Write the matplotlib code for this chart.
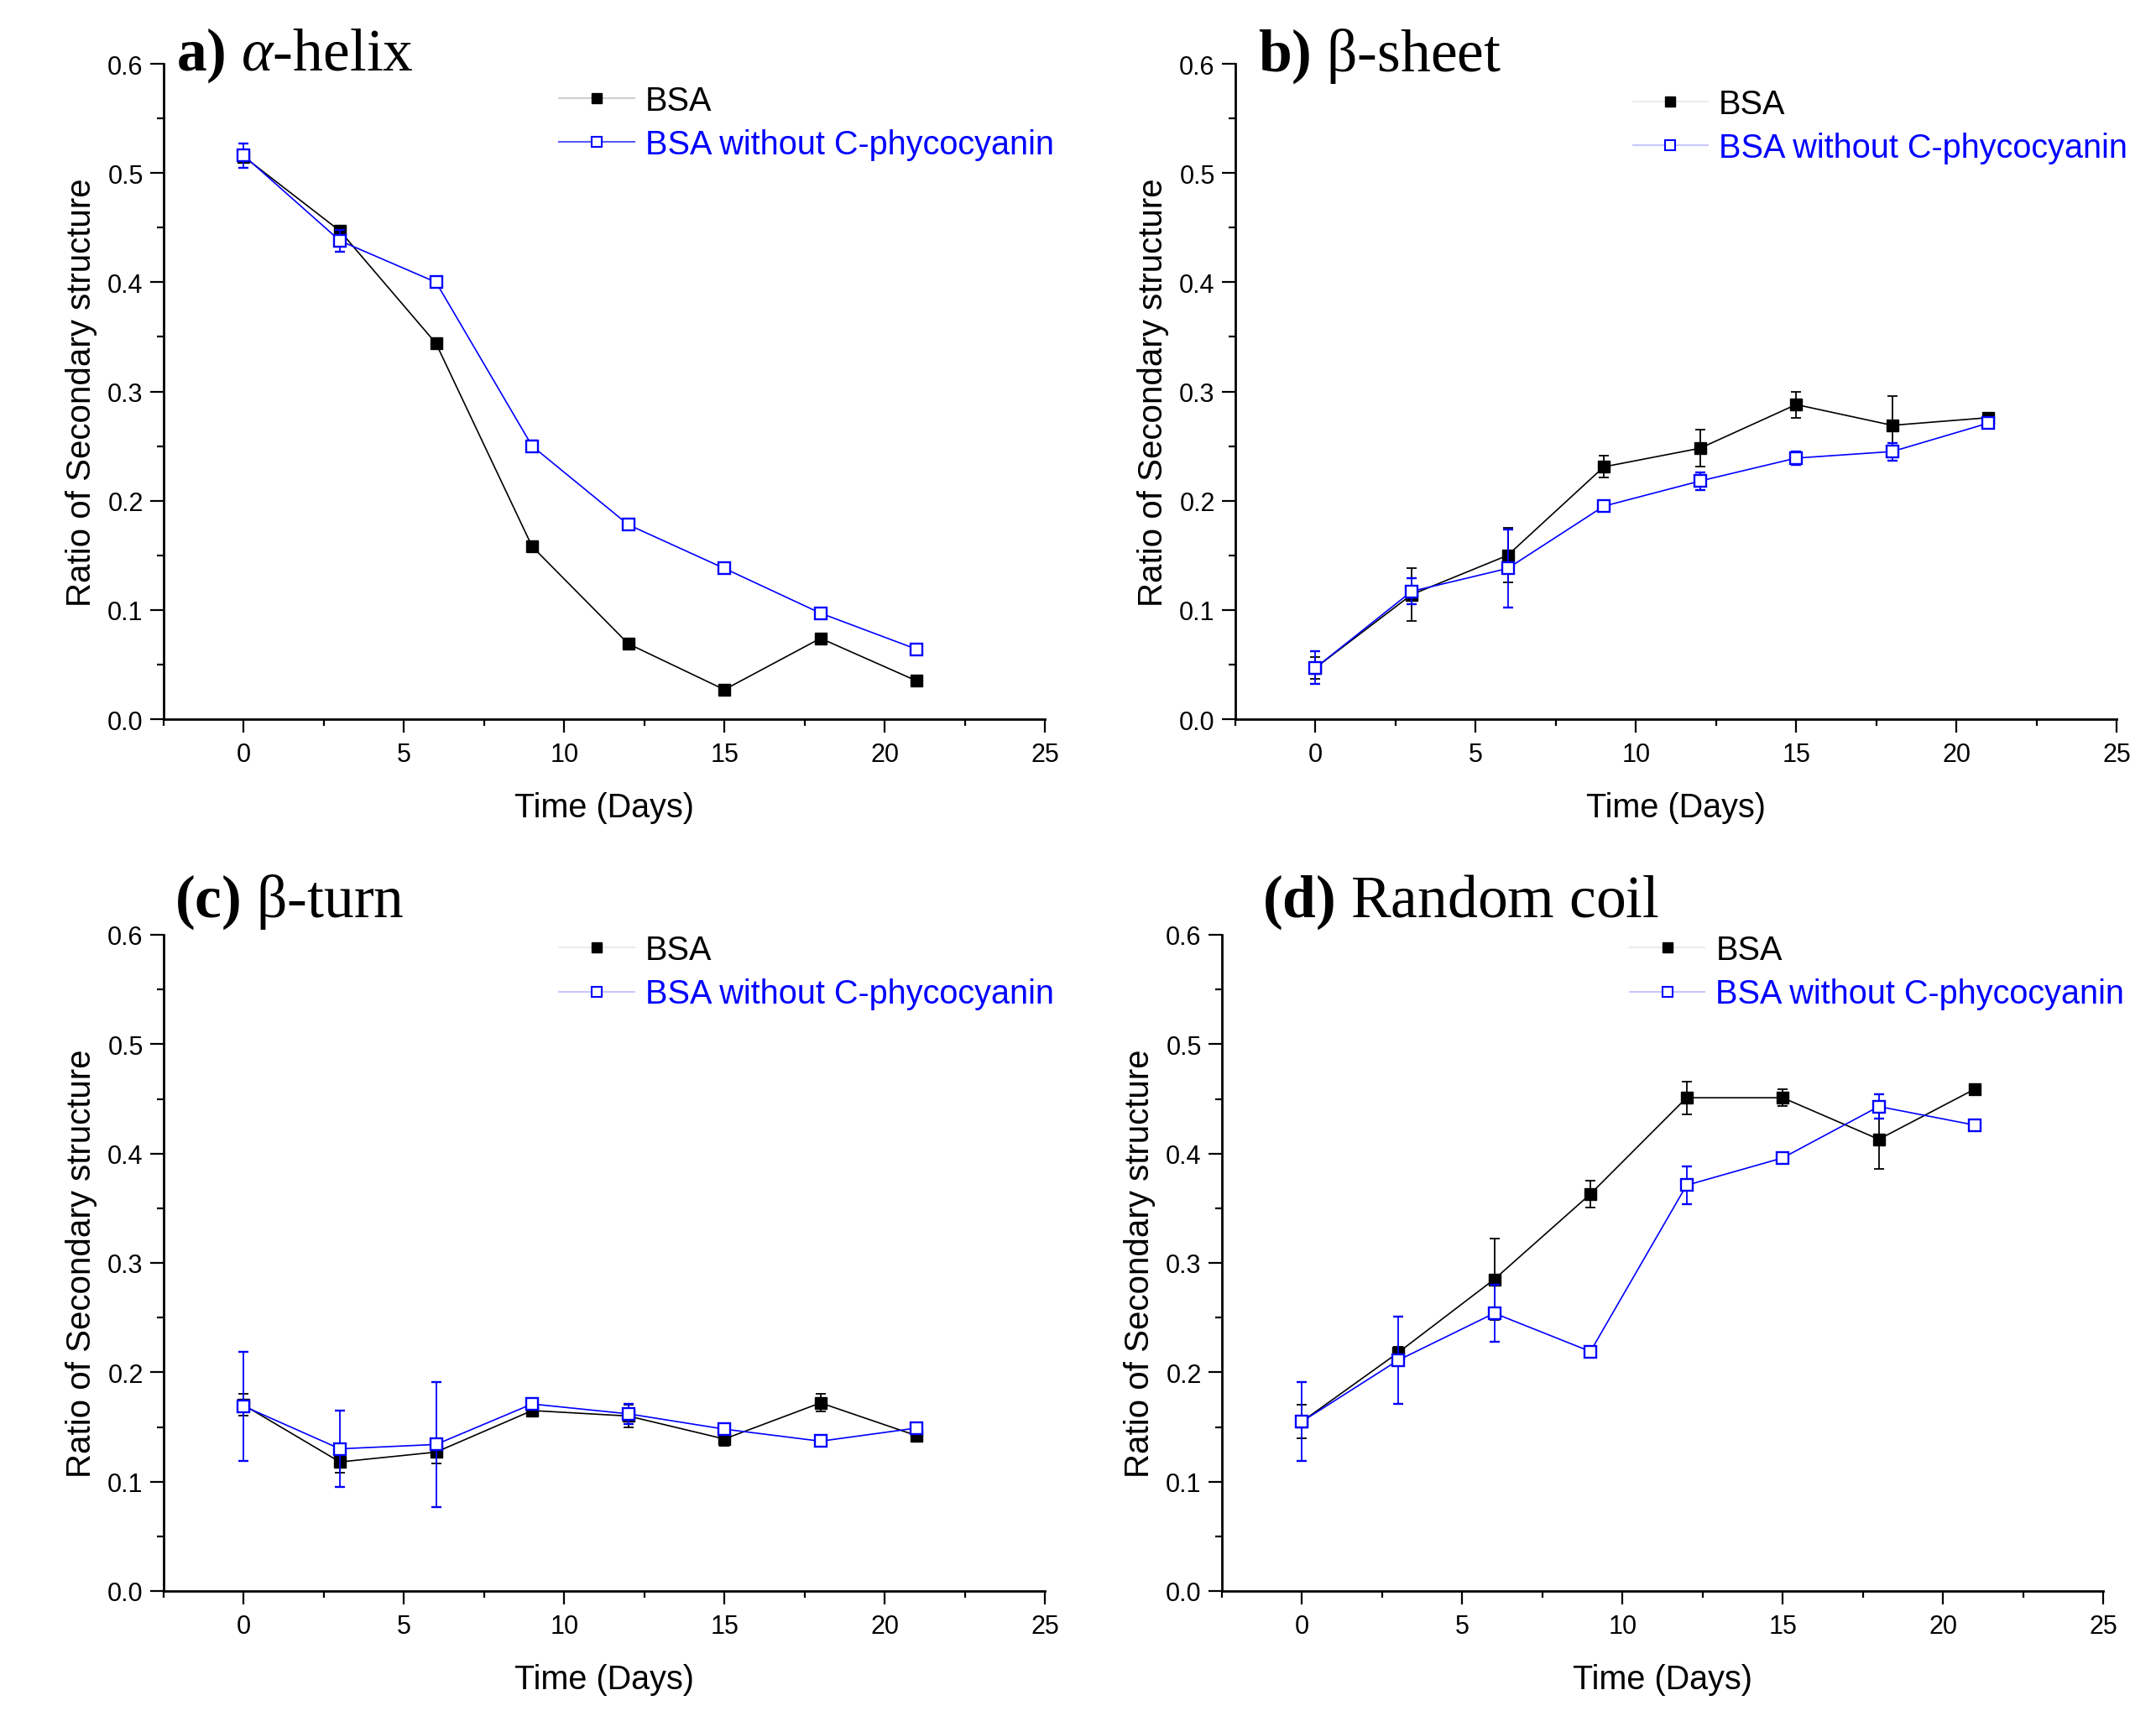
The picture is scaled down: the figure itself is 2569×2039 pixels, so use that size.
import matplotlib
matplotlib.use("Agg")
import matplotlib.pyplot as plt
from matplotlib.lines import Line2D
from matplotlib.ticker import MultipleLocator

plt.rcParams['font.family'] = ['Liberation Sans', 'DejaVu Sans']
plt.rcParams['mathtext.fontset'] = 'custom'
plt.rcParams['mathtext.rm'] = 'Liberation Serif'
plt.rcParams['mathtext.it'] = 'Liberation Serif:italic'
plt.rcParams['mathtext.bf'] = 'Liberation Serif:bold'

days = [0, 3, 6, 9, 12, 15, 18, 21]
series_labels = ["BSA", "BSA without C-phycocyanin"]

helix_bsa = [0.515, 0.447, 0.344, 0.158, 0.069, 0.027, 0.074, 0.035]
helix_bsa_err = [0.004, 0.004, 0.005, 0.004, 0.003, 0.003, 0.004, 0.003]
helix_wo = [0.516, 0.438, 0.400, 0.250, 0.178, 0.138, 0.097, 0.064]
helix_wo_err = [0.011, 0.010, 0.004, 0.005, 0.003, 0.003, 0.003, 0.003]

sheet_bsa = [0.047, 0.114, 0.150, 0.231, 0.248, 0.288, 0.269, 0.276]
sheet_bsa_err = [0.010, 0.024, 0.025, 0.010, 0.017, 0.012, 0.027, 0.004]
sheet_wo = [0.047, 0.117, 0.138, 0.195, 0.218, 0.239, 0.245, 0.271]
sheet_wo_err = [0.015, 0.012, 0.036, 0.004, 0.008, 0.006, 0.008, 0.004]

turn_bsa = [0.170, 0.118, 0.127, 0.165, 0.160, 0.139, 0.172, 0.142]
turn_bsa_err = [0.010, 0.010, 0.010, 0.003, 0.010, 0.006, 0.008, 0.003]
turn_wo = [0.169, 0.130, 0.134, 0.171, 0.162, 0.148, 0.137, 0.149]
turn_wo_err = [0.050, 0.035, 0.057, 0.003, 0.009, 0.004, 0.003, 0.004]

coil_bsa = [0.155, 0.218, 0.285, 0.363, 0.451, 0.451, 0.413, 0.459]
coil_bsa_err = [0.015, 0.005, 0.0375, 0.0125, 0.015, 0.0075, 0.027, 0.003]
coil_wo = [0.155, 0.211, 0.254, 0.219, 0.371, 0.396, 0.443, 0.426]
coil_wo_err = [0.036, 0.040, 0.026, 0.003, 0.017, 0.003, 0.011, 0.004]

titles = [r"$\mathbf{a)}$ $\alpha$-helix", r"$\mathbf{b)}$ β-sheet",
          r"$\mathbf{(c)}$ β-turn", r"$\mathbf{(d)}$ Random coil"]
panels = [
    (helix_bsa, helix_bsa_err, helix_wo, helix_wo_err),
    (sheet_bsa, sheet_bsa_err, sheet_wo, sheet_wo_err),
    (turn_bsa, turn_bsa_err, turn_wo, turn_wo_err),
    (coil_bsa, coil_bsa_err, coil_wo, coil_wo_err),
]

W, H = 2569, 2040
fig = plt.figure(figsize=(W / 100, H / 100), dpi=100)

# axes boxes in pixel coords: left, right, top, bottom
boxes = [(195, 1245, 77, 858), (1472, 2522, 77, 858),
         (195, 1245, 1115, 1897), (1456, 2506, 1115, 1897)]
title_pos = [(0.014, 0.992), (0.026, 0.990), (0.012, 1.029), (0.046, 1.029)]
legend_pos = [(0.449, 0.968), (0.451, 0.963), (0.449, 1.001), (0.463, 1.001)]
handle_line_colors = [('#cfcfcf', '#5a5aff'), ('#ececec', '#c8c8ff'),
                      ('#ececec', '#c8c8ff'), ('#ececec', '#c8c8ff')]

BLUE = '#0000ff'
for i, (box, data) in enumerate(zip(boxes, panels)):
    l, r, t, b = box
    ax = fig.add_axes([l / W, 1 - b / H, (r - l) / W, (b - t) / H])
    bsa, bsa_e, wo, wo_e = data
    ax.errorbar(days, bsa, yerr=bsa_e, color='black', lw=1.2, marker='s',
                ms=10, mfc='black', mec='black', capsize=4.5, elinewidth=1.3,
                capthick=1.3, zorder=3)
    ax.errorbar(days, wo, yerr=wo_e, color=BLUE, lw=1.2, marker='s',
                ms=10, mfc='white', mec=BLUE, mew=1.7, capsize=4.5,
                elinewidth=1.3, capthick=1.3, zorder=4)
    ax.set_xlim(-2.5, 25)
    ax.set_ylim(0, 0.6)
    ax.xaxis.set_major_locator(MultipleLocator(5))
    ax.xaxis.set_minor_locator(MultipleLocator(2.5))
    ax.yaxis.set_major_locator(MultipleLocator(0.1))
    ax.yaxis.set_minor_locator(MultipleLocator(0.05))
    ax.set_yticklabels([f"{v:.1f}" for v in ax.get_yticks()])
    for s in ('top', 'right'):
        ax.spines[s].set_visible(False)
    for s in ('left', 'bottom'):
        ax.spines[s].set_linewidth(2.0)
    ax.tick_params(which='major', direction='out', length=11.5, width=1.6,
                   labelsize=22)
    ax.tick_params(which='minor', direction='out', length=6, width=1.6)
    ax.tick_params(axis='y', which='major', pad=6)
    ax.tick_params(axis='x', which='major', pad=8)
    ax.set_xlabel("Time (Days)", fontsize=28.5, labelpad=21)
    ax.set_ylabel("Ratio of Secondary structure", fontsize=29, labelpad=9)
    ax.text(title_pos[i][0], title_pos[i][1], titles[i], transform=ax.transAxes,
            family='Liberation Serif', fontsize=51.5, ha='left', va='baseline')
    c1, c2 = handle_line_colors[i]
    h1 = Line2D([], [], color=c1, lw=1.5, marker='s', ms=8, mfc='black', mec='black')
    h2 = Line2D([], [], color=c2, lw=1.5, marker='s', ms=8, mfc='white', mec=BLUE, mew=1.5)
    leg = ax.legend([h1, h2], series_labels, loc='upper left',
                    bbox_to_anchor=legend_pos[i], frameon=False, fontsize=28.5,
                    borderpad=0, borderaxespad=0, handlelength=2.25,
                    handletextpad=0.33, labelspacing=0.36)
    leg.get_texts()[1].set_color(BLUE)

fig.savefig("out.png", dpi=100, facecolor='white')
